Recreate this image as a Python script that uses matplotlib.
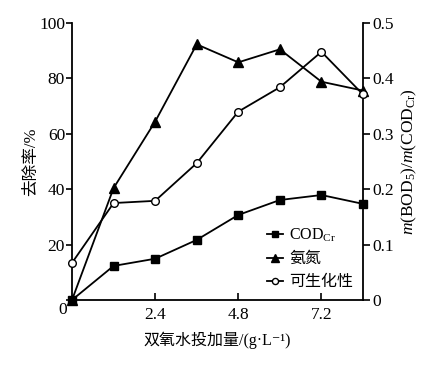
import matplotlib
matplotlib.use("Agg")
import matplotlib.pyplot as plt

FAM = ['Liberation Serif', 'Noto Sans CJK SC', 'DejaVu Sans']
plt.rcParams['font.family'] = FAM
plt.rcParams['mathtext.fontset'] = 'custom'
plt.rcParams['mathtext.rm'] = 'Liberation Serif'
plt.rcParams['mathtext.it'] = 'Liberation Serif:italic'

dose = [0, 1.2, 2.4, 3.6, 4.8, 6.0, 7.2, 8.4]
cod = [0, 12.3, 14.9, 21.7, 30.7, 36.1, 37.9, 34.7]
nh3 = [0, 40.4, 64.4, 92.3, 85.8, 90.5, 78.8, 75.6]
bio = [0.067, 0.175, 0.179, 0.247, 0.340, 0.384, 0.448, 0.371]

xticks = [2.4, 4.8, 7.2]
xticklabels = ['2.4', '4.8', '7.2']
yticks_left = [0, 20, 40, 60, 80, 100]
yticklabels_left = ['', '20', '40', '60', '80', '100']
yticks_right = [0, 0.1, 0.2, 0.3, 0.4, 0.5]
yticklabels_right = ['0', '0.1', '0.2', '0.3', '0.4', '0.5']
legend_labels = ['COD$_{\\rm Cr}$', '氨氮', '可生化性']

fig = plt.figure(figsize=(4.43, 3.71), dpi=100)
ax = fig.add_axes([72/443, 1-300/371, (363-72)/443, (300-23)/371])
ax2 = ax.twinx()

lw = 1.3
l1, = ax.plot(dose, cod, '-', color='black', marker='s', ms=5.5, lw=lw, clip_on=False, zorder=5)
l2, = ax.plot(dose, nh3, '-', color='black', marker='^', ms=6.5, lw=lw, clip_on=False, zorder=5)
l3, = ax2.plot(dose, bio, '-', color='black', marker='o', ms=5.5, mfc='white', lw=lw, clip_on=False, zorder=5)

ax.set_xlim(0, 8.4)
ax.set_ylim(0, 100)
ax2.set_ylim(0, 0.5)
ax.set_xticks(xticks)
ax.set_xticklabels(xticklabels)
ax.set_yticks(yticks_left)
ax.set_yticklabels(yticklabels_left)
ax2.set_yticks(yticks_right)
ax2.set_yticklabels(yticklabels_right)

TS = 12.5
# origin label, slightly below the axis as in the reference
ax.annotate('0', xy=(0, 0), xycoords='data', xytext=(-7, -7), textcoords='offset points',
            ha='center', va='center', fontsize=TS)

for a in (ax, ax2):
    a.spines['top'].set_visible(False)
    for s in a.spines.values():
        s.set_linewidth(1.3)
ax.spines['right'].set_visible(False)
ax2.spines['left'].set_visible(False)
ax2.spines['bottom'].set_visible(False)

ax.tick_params(axis='x', direction='in', length=5, width=1.2, labelsize=TS, pad=5)
ax.tick_params(axis='y', direction='out', length=4, width=1.2, labelsize=TS, pad=1)
ax2.tick_params(axis='y', direction='out', length=5, width=1.2, labelsize=TS, pad=2)

ax.set_xlabel('双氧水投加量/(g·L⁻¹)', fontsize=11.5, labelpad=6)
ax.set_ylabel('去除率/%', fontsize=12, labelpad=0)
ax2.set_ylabel(r'$m$(BOD$_5$)/$m$(COD$_{\rm Cr}$)', fontsize=12.5, labelpad=4)

leg = ax.legend([l1, l2, l3], legend_labels,
                loc='lower right', bbox_to_anchor=(1.0, 0.0), frameon=False,
                fontsize=11.5, handlelength=1.0, handletextpad=0.4,
                labelspacing=0.45, borderaxespad=0.2, markerscale=0.8)

fig.savefig('out.png', dpi=100, facecolor='white')
